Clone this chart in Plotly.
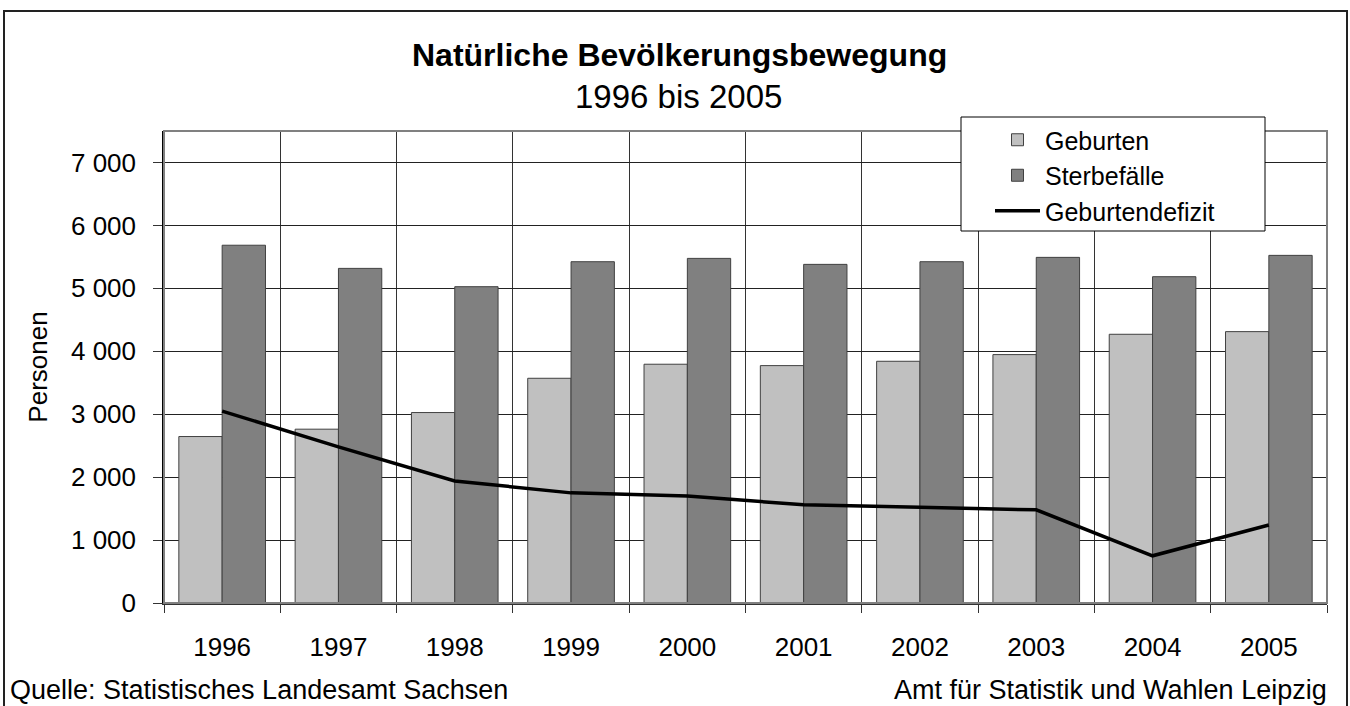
import plotly.graph_objects as go

years = ["1996", "1997", "1998", "1999", "2000", "2001", "2002", "2003", "2004", "2005"]
geburten = [2645, 2762, 3026, 3571, 3794, 3772, 3841, 3947, 4270, 4312]
sterbefaelle = [5685, 5317, 5026, 5423, 5476, 5381, 5423, 5492, 5185, 5524]
defizit = [3050, 2480, 1940, 1750, 1700, 1560, 1520, 1480, 750, 1240]
y_ticks = [0, 1000, 2000, 3000, 4000, 5000, 6000, 7000]

FONT = "Liberation Sans, Arial, sans-serif"

W, H = 1350, 706
L, R, T, B = 164, 23, 131, 103
pw, ph = W - L - R, H - T - B

def px(x):
    return (x - L) / pw

def py(y):
    return (H - B - y) / ph

fig = go.Figure()
fig.add_trace(go.Bar(
    x=years, y=geburten, name="Geburten", legendgroup="a",
    marker=dict(color="#C0C0C0", line=dict(color="#404040", width=1)),
))
fig.add_trace(go.Bar(
    x=years, y=sterbefaelle, name="Sterbefälle", legendgroup="b",
    marker=dict(color="#808080", line=dict(color="#404040", width=1)),
))
fig.add_trace(go.Scatter(
    x=years, y=defizit, name="Geburtendefizit", legendgroup="c",
    mode="lines", line=dict(color="black", width=3.5),
))

shapes = [
    dict(type="rect", xref="paper", yref="paper",
         x0=px(4), x1=px(1347), y0=py(720), y1=py(11),
         line=dict(color="#222", width=2), fillcolor="rgba(0,0,0,0)", layer="above"),
    dict(type="rect", xref="paper", yref="paper",
         x0=0, x1=1, y0=0, y1=1,
         line=dict(color="#808080", width=2), fillcolor="rgba(0,0,0,0)", layer="above"),
    dict(type="rect", xref="paper", yref="paper",
         x0=px(961), x1=px(1265), y0=py(231), y1=py(117),
         line=dict(color="black", width=1), fillcolor="white", layer="above"),
]

annotations = [
    dict(text="<b>Natürliche Bevölkerungsbewegung</b>", xref="paper", yref="paper",
         x=px(679), y=py(55), showarrow=False, font=dict(size=32, color="black", family=FONT),
         xanchor="center", yanchor="middle"),
    dict(text="1996 bis 2005", xref="paper", yref="paper",
         x=px(678), y=py(96), showarrow=False, font=dict(size=33, color="black", family=FONT),
         xanchor="center", yanchor="middle"),
    dict(text="Quelle: Statistisches Landesamt Sachsen", xref="paper", yref="paper",
         x=px(8), y=py(690), showarrow=False, font=dict(size=27, color="black", family=FONT),
         xanchor="left", yanchor="middle"),
    dict(text="Amt für Statistik und Wahlen Leipzig", xref="paper", yref="paper",
         x=px(1329), y=py(690), showarrow=False, font=dict(size=27, color="black", family=FONT),
         xanchor="right", yanchor="middle"),
]

fig.update_layout(
    width=W, height=H,
    margin=dict(l=L, r=R, t=T, b=B, autoexpand=False),
    paper_bgcolor="white", plot_bgcolor="white",
    font=dict(family=FONT, size=26, color="black"),
    separators=", ",
    barmode="group", bargap=0.255, bargroupgap=0,
    showlegend=True,
    legend=dict(
        x=px(990), y=py(117), xanchor="left", yanchor="top",
        bgcolor="rgba(0,0,0,0)", borderwidth=0,
        font=dict(size=25, family=FONT, color="black"),
        traceorder="grouped", tracegroupgap=0, itemwidth=45,
    ),
    shapes=shapes,
    annotations=annotations,
    hovermode=False,
)

fig.update_xaxes(
    type="category", tickson="boundaries",
    showgrid=True, gridcolor="#333", gridwidth=1,
    ticks="outside", ticklen=8, tickcolor="#333", tickwidth=1,
    showline=True, linecolor="#333", linewidth=2,
    tickfont=dict(size=26, family=FONT, color="black"),
    ticklabelstandoff=20,
)
fig.update_yaxes(
    range=[0, 7500], tickvals=y_ticks, tickformat=",d",
    showgrid=True, gridcolor="#222", gridwidth=1,
    ticks="outside", ticklen=9, tickcolor="#333", tickwidth=1,
    showline=True, linecolor="black", linewidth=1.5,
    tickfont=dict(size=26, family=FONT, color="black"),
    ticklabelstandoff=12,
    zeroline=False,
    title=dict(text="Personen", font=dict(size=26, family=FONT, color="black"), standoff=16),
)

fig.write_html("out.html", config={"displayModeBar": False},
               post_script="document.body.style.margin='0';document.body.style.padding='0';")
